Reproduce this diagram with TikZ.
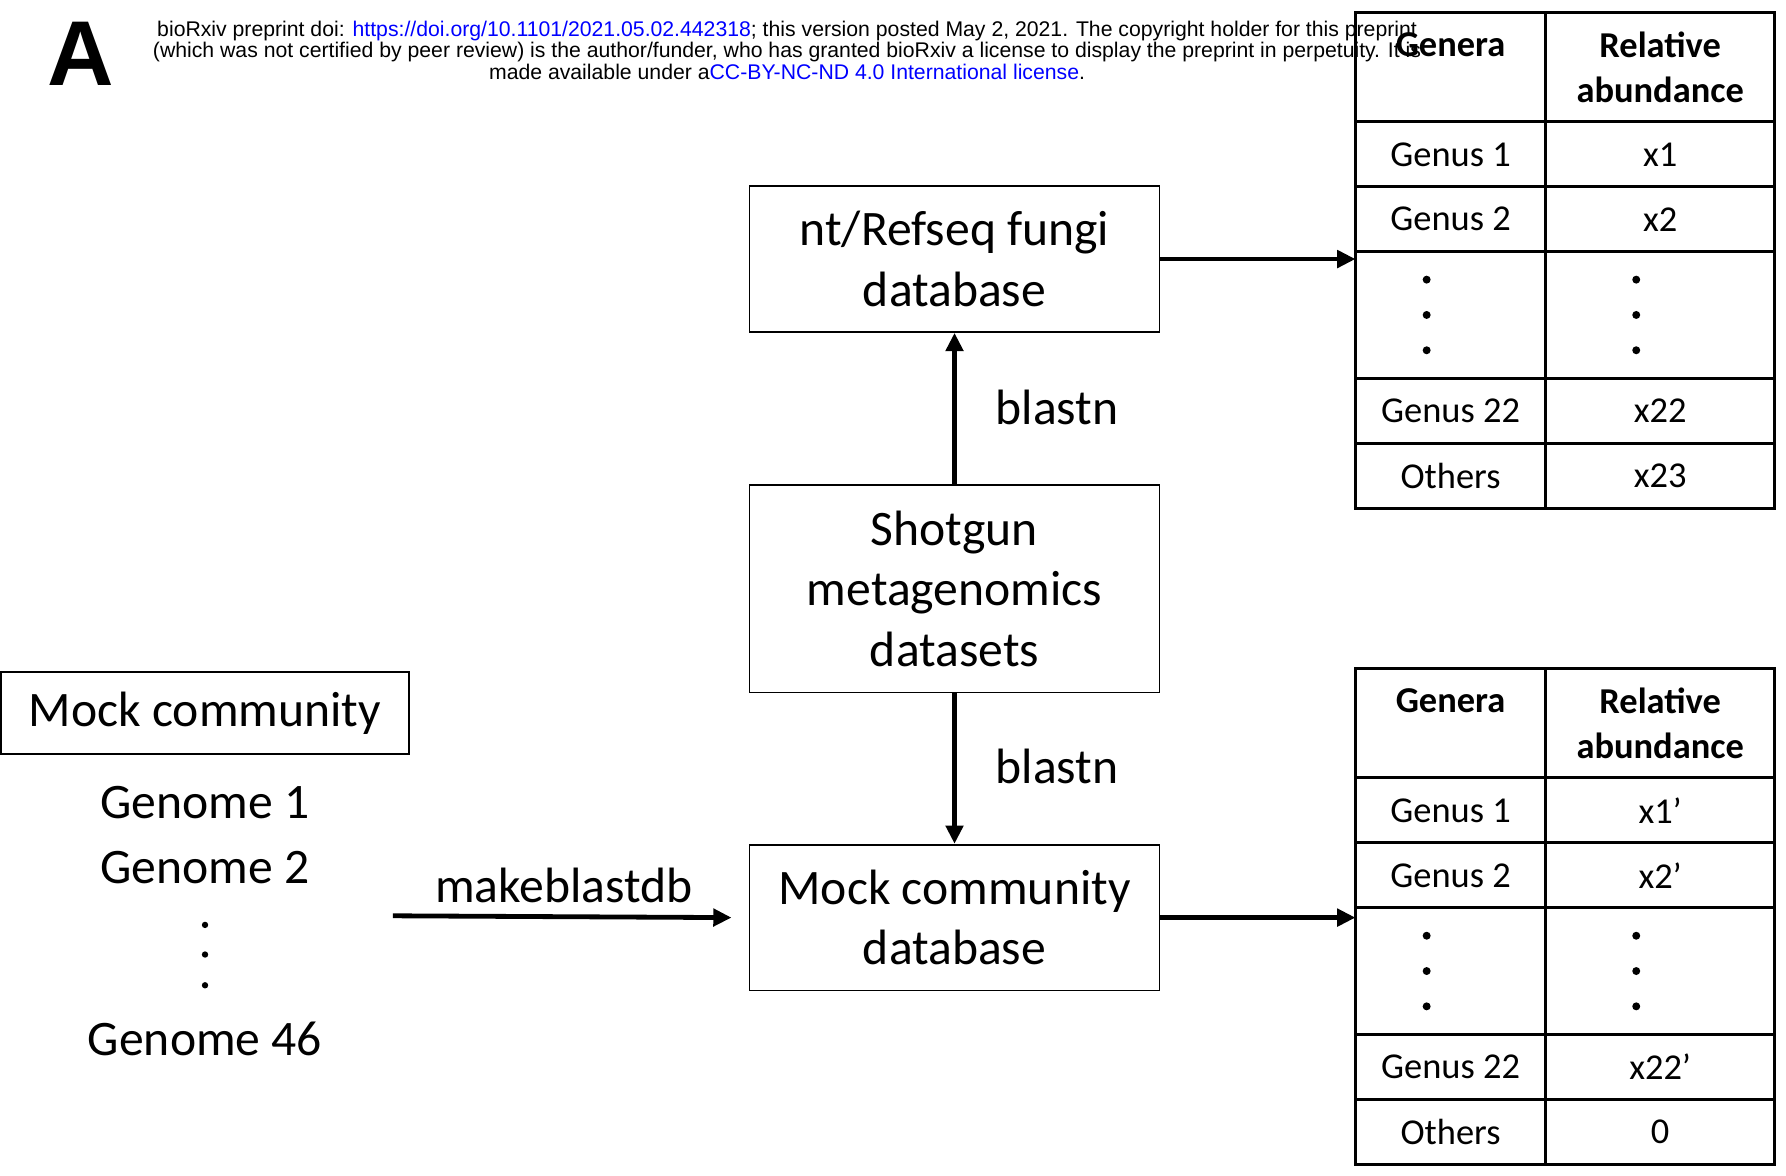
\documentclass[tikz,border=0pt]{standalone}
\usepackage{fontspec}
\setmainfont{Carlito}
\newfontfamily\hdrfont{Liberation Sans}
\usetikzlibrary{arrows.meta, positioning, calc}
\definecolor{linkBlue}{RGB}{0,0,255}

\begin{document}
\begin{tikzpicture}[
  box/.style={draw, line width=0.45pt, minimum width=3.6cm, minimum height=1.28cm, align=center, inner sep=0pt, font=\fontsize{12.4}{15.1}\selectfont},
  lbl/.style={inner sep=0pt, font=\fontsize{12.4}{15.1}\selectfont},
  cell/.style={draw, line width=0.75pt, outer sep=0pt, inner sep=0pt, minimum height=0.57cm, align=center, font=\fontsize{9.1}{11.1}\selectfont},
  gcell/.style={cell, minimum width=1.67cm},
  vcell/.style={cell, minimum width=2.01cm},
  arr/.style={-{Triangle[length=0.16cm, width=0.15cm]}, line width=1.2pt},
  node distance=1.33cm
]
  \useasboundingbox (0,0) rectangle (15.68,10.32);

  % preprint header
  \node[inner sep=0pt, font=\hdrfont\bfseries\fontsize{23}{23}\selectfont] (panel) at (0.71,9.85) {A};
  \node[inner sep=0pt, align=center, font=\hdrfont\fontsize{5.3}{5.4}\selectfont] (hdr) at (6.91,9.88)
    {bioRxiv preprint doi: \textcolor{linkBlue}{https://doi.org/10.1101/2021.05.02.442318}; this version posted May 2, 2021. The copyright holder for this preprint\\
     (which was not certified by peer review) is the author/funder, who has granted bioRxiv a license to display the preprint in perpetuity. It is\\
     made available under a\textcolor{linkBlue}{CC-BY-NC-ND 4.0 International license}.};

  % pipeline
  \node[box, minimum height=1.82cm] (sg) at (8.38,5.15) {Shotgun\\metagenomics\\datasets};
  \node[box, above=of sg] (ntdb) {nt/Refseq fungi\\database};
  \node[box, below=1.32cm of sg] (mockdb) {Mock community\\database};
  \draw[arr] (sg) -- (ntdb);
  \draw[arr] (sg) -- (mockdb);
  \node[lbl] (blup) at (9.28,6.74) {blastn};
  \node[lbl] (bldown) at (9.28,3.59) {blastn};

  % mock community genomes
  \node[lbl, draw, line width=0.45pt, minimum width=3.58cm, minimum height=0.72cm] (mc) at (1.80,4.06) {Mock community};
  \node[lbl] (gen1) at (1.80,3.27) {Genome 1};
  \node[lbl] (gen2) at (1.80,2.70) {Genome 2};
  \node[lbl] (gen46) at (1.80,1.20) {Genome 46};
  \foreach \y in {2.20,1.94,1.67}
    \fill (1.80,\y) circle (0.028);

  \coordinate (mkstart) at (3.45,2.28);
  \draw[arr] (mkstart) -- ([xshift=-0.15cm]mockdb.west);
  \node[lbl] (mk) at (4.95,2.55) {makeblastdb};

  % abundance tables
  \foreach \t/\ty/\va/\vb/\vc/\vd in {top/10.21/x1/x2/x22/x23, bot/4.45/x1’/x2’/x22’/0}{
    \node[gcell, minimum height=0.96cm, anchor=north west, font=\fontsize{9.1}{11.1}\selectfont\bfseries] (\t-h1) at (11.90,\ty) {Genera\\\vphantom{abundance}};
    \node[vcell, minimum height=0.96cm, right=0cm of \t-h1, font=\fontsize{9.1}{11.1}\selectfont\bfseries] (\t-h2) {Relative\\abundance};
    \node[gcell, below=0cm of \t-h1] (\t-r1) {Genus 1};
    \node[vcell, right=0cm of \t-r1] (\t-v1) {\va};
    \node[gcell, below=0cm of \t-r1] (\t-r2) {Genus 2};
    \node[vcell, right=0cm of \t-r2] (\t-v2) {\vb};
    \node[gcell, minimum height=1.11cm, below=0cm of \t-r2] (\t-rd) {};
    \node[vcell, minimum height=1.11cm, right=0cm of \t-rd] (\t-vd) {};
    \node[gcell, below=0cm of \t-rd] (\t-r22) {Genus 22};
    \node[vcell, right=0cm of \t-r22] (\t-v22) {\vc};
    \node[gcell, below=0cm of \t-r22] (\t-ro) {Others};
    \node[vcell, right=0cm of \t-ro] (\t-vo) {\vd};
    \foreach \d in {-0.31,0,0.31}{
      \fill ($(\t-rd.center)+(-0.21,\d)$) circle (0.035);
      \fill ($(\t-vd.center)+(-0.21,\d)$) circle (0.035);
    }
  }

  \draw[arr] (ntdb.east) -- (ntdb.east -| top-r1.west);
  \draw[arr] (mockdb.east) -- (mockdb.east -| bot-r1.west);
\end{tikzpicture}
\end{document}
